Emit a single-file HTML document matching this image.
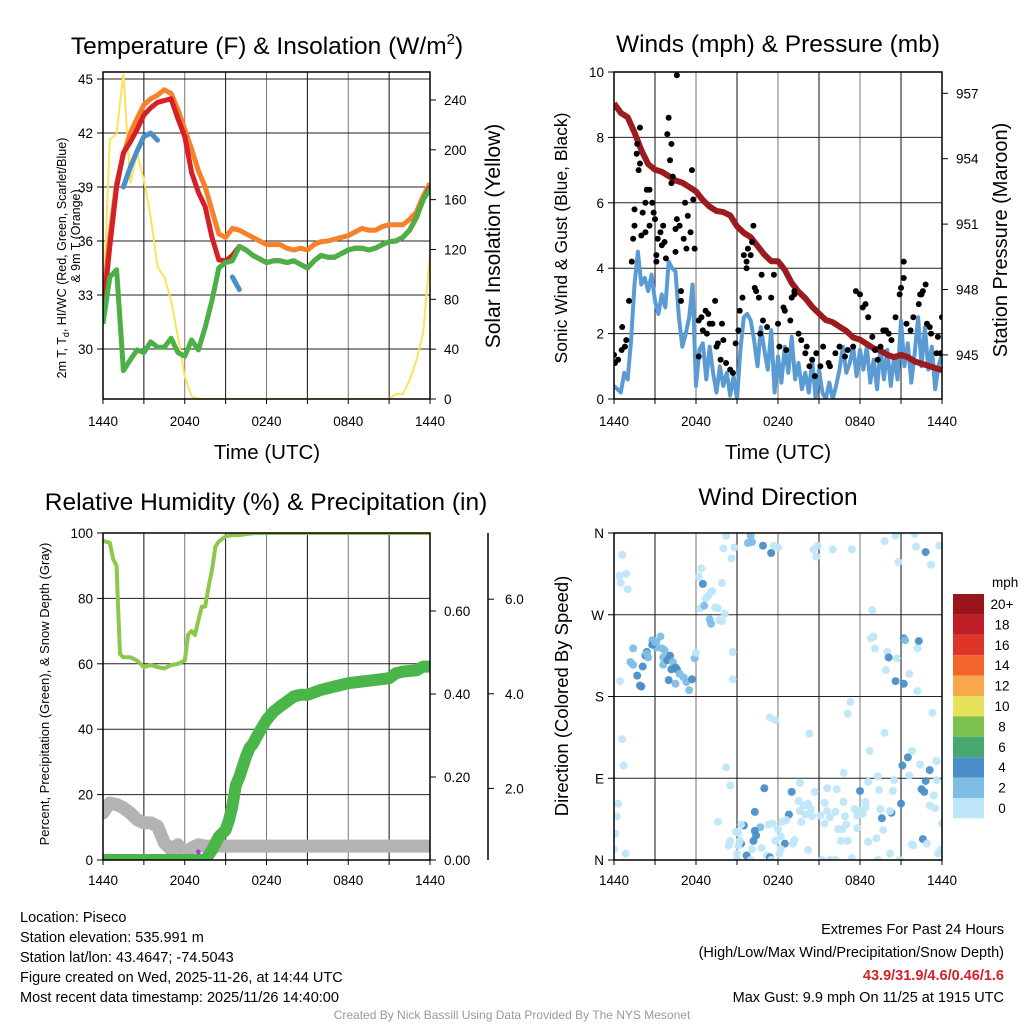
<!DOCTYPE html>
<html><head><meta charset="utf-8"><style>
html,body{margin:0;padding:0;background:#fff;}
svg{display:block;font-family:"Liberation Sans",sans-serif;}
</style></head><body>
<svg id="chart" width="1024" height="1024" viewBox="0 0 1024 1024" xmlns="http://www.w3.org/2000/svg">
<rect x="0" y="0" width="1024" height="1024" fill="#fff"/>
<defs>
<clipPath id="c1"><rect x="103" y="72" width="327" height="327"/></clipPath>
<clipPath id="c2"><rect x="614" y="72" width="328" height="327"/></clipPath>
<clipPath id="c3"><rect x="103" y="533" width="327" height="327"/></clipPath>
<clipPath id="c4"><rect x="614" y="533" width="328" height="327"/></clipPath>
</defs>
<g id="layer"></g>
<text x="267" y="54" font-size="24.5" text-anchor="middle">Temperature (F) &amp; Insolation (W/m<tspan font-size="15" dy="-10">2</tspan><tspan dy="10">)</tspan></text>
<text x="778" y="52" font-size="24.5" text-anchor="middle">Winds (mph) &amp; Pressure (mb)</text>
<text x="266" y="510" font-size="24.5" text-anchor="middle">Relative Humidity (%) &amp; Precipitation (in)</text>
<text x="778" y="505" font-size="24.5" text-anchor="middle">Wind Direction</text>
<text x="267" y="459" font-size="20.5" text-anchor="middle">Time (UTC)</text>
<text x="778" y="459" font-size="20.5" text-anchor="middle">Time (UTC)</text>
<text transform="translate(66,258) rotate(-90)" font-size="12.5" text-anchor="middle">2m T, T<tspan font-size="9" dy="3">d</tspan><tspan dy="-3">, HI/WC (Red, Green, Scarlet/Blue)</tspan></text>
<text transform="translate(80,236) rotate(-90)" font-size="12.5" text-anchor="middle">&amp; 9m T (Orange)</text>
<text transform="translate(500,236) rotate(-90)" font-size="21" text-anchor="middle">Solar Insolation (Yellow)</text>
<text transform="translate(567,238) rotate(-90)" font-size="17.5" text-anchor="middle">Sonic Wind &amp; Gust (Blue, Black)</text>
<text transform="translate(1007,240) rotate(-90)" font-size="20" text-anchor="middle">Station Pressure (Maroon)</text>
<text transform="translate(49,694) rotate(-90)" font-size="13" text-anchor="middle">Percent, Precipitation (Green), &amp; Snow Depth (Gray)</text>
<text transform="translate(568,696) rotate(-90)" font-size="18.5" text-anchor="middle">Direction (Colored By Speed)</text>
<g font-size="14.5">
<text x="20" y="922">Location: Piseco</text>
<text x="20" y="942">Station elevation: 535.991 m</text>
<text x="20" y="962">Station lat/lon: 43.4647; -74.5043</text>
<text x="20" y="982">Figure created on Wed, 2025-11-26, at 14:44 UTC</text>
<text x="20" y="1002">Most recent data timestamp: 2025/11/26 14:40:00</text>
</g>
<g font-size="14.5" text-anchor="end">
<text x="1004" y="934">Extremes For Past 24 Hours</text>
<text x="1004" y="957">(High/Low/Max Wind/Precipitation/Snow Depth)</text>
<text x="1004" y="980" fill="#d2232a" font-weight="bold">43.9/31.9/4.6/0.46/1.6</text>
<text x="1004" y="1002">Max Gust: 9.9 mph On 11/25 at 1915 UTC</text>
</g>
<text x="512" y="1019" font-size="12" fill="#999" text-anchor="middle">Created By Nick Bassill Using Data Provided By The NYS Mesonet</text>
</svg>
<script>
const hoursHalf = [0,0.5,1,1.5,2,2.5,3,3.5,4,4.5,5,5.5,6,6.5,7,7.5,8,8.5,9,9.5,10,10.5,11,11.5,12,12.5,13,13.5,14,14.5,15,15.5,16,16.5,17,17.5,18,18.5,19,19.5,20,20.5,21,21.5,22,22.5,23,23.5,24];
const temp2m = [32.0,35.7,39.0,40.9,41.5,42.2,43.0,43.4,43.7,43.8,43.9,42.8,41.8,39.8,38.7,37.9,36.2,34.95,34.9,35.2,35.7,35.5,35.2,35.0,34.8,34.9,34.9,34.8,34.9,34.7,34.5,34.9,35.2,35.1,35.1,35.3,35.5,35.6,35.6,35.5,35.6,35.8,35.96,36.0,36.2,36.6,37.3,38.3,39.0];
const temp9m = [32.5,36.2,39.2,40.8,42.0,42.8,43.56,43.9,44.1,44.4,44.2,43.3,42.2,41.1,39.9,39.0,37.7,36.4,36.2,36.7,36.6,36.4,36.2,36.0,35.8,35.8,35.8,35.6,35.5,35.6,35.5,35.8,35.96,36.0,36.1,36.2,36.3,36.5,36.7,36.6,36.6,36.8,36.9,36.9,36.9,37.2,37.6,38.5,39.2];
const dewPoint = [31.4,34.0,34.4,28.8,29.4,29.95,29.8,30.4,30.1,30.1,30.6,29.8,29.6,30.5,29.95,31.2,32.7,34.5,34.8,34.9,35.7,35.5,35.2,35.0,34.8,34.9,34.9,34.8,34.9,34.7,34.5,34.9,35.2,35.1,35.1,35.3,35.5,35.6,35.6,35.5,35.6,35.8,35.96,36.0,36.2,36.6,37.3,38.3,38.9];
const heatIndexWC = [null,null,null,39.0,40.1,41.0,41.8,42.0,41.6,null,null,40.8,null,null,null,null,null,null,null,34.0,33.3,null,null,null,null,null,null,null,null,null,null,null,null,null,null,null,null,null,null,null,null,null,null,null,null,null,null,null,null];
const insolation = [70,208,213,261,173,197,176,146,106,98,79,50,18,2,0,0,0,0,0,0,0,0,0,0,0,0,0,0,0,0,0,0,0,0,0,0,0,0,0,0,0,0,0,4,4,15,31,53,117];
const pressure = [956.54,956.1,955.9,955.2,954.4,953.75,953.5,953.4,953.2,953.0,952.9,952.7,952.5,952.1,951.8,951.6,951.55,951.4,950.9,950.6,950.4,950.0,949.6,949.3,949.3,948.9,948.3,947.9,947.6,947.2,946.9,946.6,946.5,946.3,946.1,945.8,945.7,945.5,945.3,945.2,945.0,944.9,945.0,944.9,944.7,944.6,944.5,944.4,944.3];
const sonicWind = [0.4,0.3,0.2,0.8,0.6,1.8,3.5,4.5,3.5,3.7,3.3,3.8,3.0,2.6,3.2,2.8,4.2,4.0,3.9,2.5,1.6,2.0,2.5,3.5,0.4,1.5,1.7,0.6,1.6,0.8,0.2,1.0,0.4,0.8,0.1,0.7,0.0,1.5,2.5,2.6,2.4,1.8,1.0,2.2,1.5,0.9,2.1,0.2,1.3,0.5,1.6,0.8,1.9,0.6,1.1,0.3,0.8,0.2,1.2,0.0,0.9,0.2,0.0,0.5,0.0,0.4,0.9,1.6,0.8,1.1,1.6,0.7,1.5,0.9,1.6,0.5,1.2,0.3,1.6,0.6,1.5,0.4,1.3,0.6,2.4,1.0,1.7,0.5,1.4,2.5,1.0,2.2,0.9,1.6,0.3,1.0,1.4];
const gustHours = [0,0.07,0.3,0.56,0.6,0.8,0.9,1.1,1.3,1.4,1.5,1.5,1.66,1.7,1.9,1.8,1.9,2.0,2.1,2.3,2.3,2.4,2.6,2.6,2.8,2.9,3.0,3.1,3.1,3.2,3.4,3.5,3.6,3.7,3.8,3.9,4.0,4.1,4.2,4.2,4.3,4.5,4.5,4.6,4.6,4.8,4.9,4.9,5.1,5.2,5.3,5.4,5.6,5.7,5.8,5.9,6.2,6.2,6.4,6.5,6.7,6.8,6.9,7.0,7.2,7.4,7.5,7.6,7.8,7.9,8.0,8.2,8.5,8.7,8.9,9.1,9.2,9.4,9.5,9.7,9.7,9.8,10.0,10.1,10.2,10.3,10.4,10.6,10.7,10.8,10.9,11.2,11.5,11.7,12.0,12.1,12.4,12.5,12.6,12.9,13.0,13.2,13.2,13.5,13.7,14.0,14.1,14.3,14.5,14.7,14.8,15.1,15.3,15.7,15.8,16.2,16.5,16.9,17.1,17.5,17.7,18.0,18.2,18.4,18.6,18.9,19.1,19.3,19.5,19.7,19.9,20.1,20.3,20.6,20.9,21.0,21.2,21.2,21.4,21.7,21.9,22.3,22.4,22.5,22.6,22.8,22.9,23.1,23.2,23.6,23.7,23.9,24.0];
const gustValues = [1.35,1.1,1.2,1.5,2.2,1.6,1.8,3.0,4.2,4.9,5.8,5.3,7.5,7.8,8.3,7.0,7.2,5.0,5.7,6.0,5.1,6.4,6.4,5.3,6.0,5.7,5.5,4.2,4.4,4.9,5.1,4.7,5.3,4.8,4.3,8.1,8.6,7.3,7.8,6.6,6.8,5.2,4.5,9.9,5.5,5.3,3.3,3.0,4.9,6.0,4.6,5.6,5.1,7.0,6.1,4.6,1.3,2.4,2.5,2.1,2.7,2.0,2.6,2.3,2.3,3.0,1.6,1.7,1.2,2.3,1.8,1.1,0.9,0.8,1.7,2.1,2.7,3.1,4.4,4.2,4.0,4.6,4.4,4.8,5.3,3.4,3.3,3.1,2.0,3.8,2.4,2.2,3.1,3.8,2.3,1.6,2.8,2.7,1.5,2.4,3.1,3.3,3.2,2.0,1.8,1.4,1.6,1.0,1.2,0.7,1.4,1.0,1.6,1.1,1.0,1.4,1.6,1.3,1.5,1.6,3.3,3.2,2.8,2.9,2.5,1.9,1.5,1.2,1.6,2.1,2.1,2.0,1.8,2.5,3.2,3.4,4.2,3.7,2.3,2.1,2.5,2.9,3.2,3.2,3.3,3.5,2.3,2.2,2.0,1.4,1.9,1.4,2.5];
const rhHours = [0,0.25,0.5,0.75,1,1.1,1.25,1.5,2,2.5,3,3.5,4,4.5,5,5.5,6,6.25,6.5,6.75,7,7.25,7.5,7.75,8,8.25,8.5,9,9.5,10,11,12,14,16,18,20,22,24];
const relHumidity = [97.6,97.3,97,92,90,78,63,62,62,61,59,59.6,59,58.6,59.6,60,61,69,70,68.8,73.4,77.5,77.5,83.6,88.7,95.8,97.4,99,99.4,99.4,99.9,100,100,100,100,100,100,100];
const precipHours = [0,7.5,8,8.5,9,9.25,9.5,9.75,10,10.25,10.5,10.75,11,11.5,12,12.5,13,13.5,14,14.5,15,16,17,18,19,20,21,21.5,22,23,23.5,24];
const precip = [0,0,0.024,0.056,0.072,0.096,0.13,0.18,0.2,0.225,0.25,0.27,0.28,0.31,0.337,0.357,0.37,0.382,0.394,0.398,0.398,0.41,0.418,0.426,0.43,0.434,0.438,0.45,0.454,0.457,0.466,0.466];
const snowHours = [0,0.5,1,1.5,2,2.5,3,3.5,4,4.5,5,5.5,6,6.5,7,7.5,12,18,24];
const snowDepth = [1.48,1.69,1.66,1.59,1.48,1.34,1.27,1.27,1.2,0.85,0.71,0.81,0.64,0.74,0.81,0.78,0.78,0.78,0.78];
const dirHours = [0.6,0.4,0.5,0.9,1.0,0.6,0.7,0.3,0.2,0.1,0.0,0.85,0.45,1.4,1.2,1.4,1.7,1.9,2.0,2.1,2.3,2.4,2.8,2.9,3.1,3.4,3.5,3.6,3.7,3.6,3.9,4.1,4.2,4.3,4.0,4.5,4.6,4.5,4.8,5.1,5.3,5.5,5.7,5.9,6.0,3.1,2.8,2.4,2.5,3.0,6.2,6.4,6.5,6.7,6.9,7.1,7.2,6.3,6.6,7.0,7.1,7.4,7.6,7.7,7.9,8.1,7.9,8.0,8.2,8.6,8.8,8.7,8.7,8.2,8.5,9.8,10.0,10.1,10.9,11.5,11.7,12.0,14.6,14.8,14.9,16.0,17.4,19.8,20.6,20.8,22.0,22.1,22.8,23.2,23.8,18.9,18.8,19.0,19.1,20.0,20.1,20.7,19.9,20.6,21.2,21.2,21.3,21.6,22.3,22.2,22.2,17.3,17.1,11.4,11.8,14.3,23.3,19.8,18.7,21.8,21.5,21.1,22.4,23.6,23.1,21.6,16.8,19.3,20.5,22.8,23.6,13.6,11.0,13.0,14.7,15.6,16.3,16.8,18.0,18.6,19.4,20.4,22.5,22.7,23.4,23.1,23.5,13.5,13.9,14.2,14.4,13.6,14.0,14.5,13.7,15.1,15.4,15.6,15.8,16.2,15.4,16.4,16.7,16.9,17.0,16.6,17.1,17.8,17.6,18.0,18.2,18.4,18.4,17.8,18.6,19.2,19.5,19.6,19.7,20.3,20.2,21.0,21.8,21.9,22.6,22.9,24.0,23.9,23.7,20.2,20.9,19.3,17.4,16.2,15.8,15.2,14.2,13.2,12.5,13.1,12.8,12.6,12.3,12.0,12.2,11.8,12.2,11.6,11.3,10.7,10.4,10.3,10.3,10.2,10.1,10.8,11.2,11.4,9.3,9.5,9.3,9.1,8.9,9.2,9.1,9.0,9.0,9.7,10.0,8.4,8.5,7.6,11.5,12.1];
const dirDegrees = [336,313,305,315,298,133,104,62,48,29,12,7,197,233,218,215,203,192,191,213,225,229,242,238,234,246,233,223,231,215,220,225,210,218,198,212,210,194,205,201,196,187,199,222,228,240,237,227,223,240,312,321,304,288,291,295,296,277,280,265,260,278,277,264,263,271,305,343,357,332,344,229,199,102,82,349,357,350,346,338,346,344,342,334,346,342,342,351,357,328,359,345,339,325,346,275,244,246,233,229,223,222,209,197,194,244,242,205,241,233,186,174,161,157,154,139,162,140,120,120,113,104,105,109,99,93,96,92,88,87,88,85,79,75,75,79,78,64,76,86,77,76,78,75,71,60,57,65,60,62,56,54,50,48,42,49,63,54,47,53,40,34,34,48,39,21,21,49,56,54,51,64,58,35,20,24,56,46,33,52,54,62,17,16,23,18,40,11,7,7,0,0,2,0,0,0,11,22,18,18,50,44,42,34,26,21,12,40,39,36,27,32,53,21,12,13,5,3,18,38,39,30,31,21,16,7,0,5,0,16,21,42,0,7];
const dirSpeed = [0,0,0,0,0,0,0,0,0,0,0,0,0,2,2,2,4,4,4,4,4,4,2,4,2,2,2,2,2,2,4,4,4,2,4,4,4,2,2,2,2,2,4,2,0,2,4,2,2,2,0,0,4,0,0,0,0,0,2,2,2,0,0,0,0,0,0,0,0,0,0,0,0,0,0,2,2,2,4,4,0,0,0,0,0,0,0,0,0,0,0,0,4,0,0,0,0,0,0,0,4,0,0,4,4,4,2,0,4,0,0,0,0,0,0,0,0,0,0,0,4,4,0,0,4,0,0,0,0,4,0,0,4,4,0,0,0,0,4,0,0,0,4,4,0,0,0,0,0,0,0,0,0,0,0,0,0,0,0,0,0,0,0,0,0,0,0,0,0,0,0,0,0,0,0,0,0,4,0,4,0,4,0,0,4,0,0,0,0,0,0,0,0,0,0,0,0,0,4,0,4,0,0,0,0,0,0,0,0,2,4,4,4,4,0,0,0,4,4,4,0,0,0,0,0,0,0,4,0,0,0,0,0];
const timeTickLabels = ["1440","2040","0240","0840","1440"];
const tempTicks = [30,33,36,39,42,45];
const insolTicks = [0,40,80,120,160,200,240];
const windTicks = [0,2,4,6,8,10];
const pressTicks = [945,948,951,954,957];
const rhTicks = [0,20,40,60,80,100];
const precipTicks = [0,0.2,0.4,0.6];
const precipTickLabels = ["0.00","0.20","0.40","0.60"];
const snowTicks = [2,4,6];
const snowTickLabels = ["2.0","4.0","6.0"];
const dirTicks = [0,90,180,270,360];
const dirTickLabels = ["N","E","S","W","N"];
const cbarLabels = ["20+","18","16","14","12","10","8","6","4","2","0"];
const cbarColors = ["#98161b","#be1e25","#df3429","#f1642a","#f8a84a","#e7e25c","#7cc04d","#48a870","#4a8fc8","#7fbde6","#bfe6f9"];
const speedColors = {0:"#bfe6f9",2:"#7fbde6",4:"#4a8fc8"};

const xL = h => 103 + h * 13.625;
const xR = h => 614 + h * 13.667;
const yTemp = t => 79 + (45 - t) * 18;
const yIns = s => 399 - s * 1.246;
const yWind = v => 399 - v * 32.7;
const yPress = p => 93.3 + (957 - p) * 21.8;
const yRH = r => 860 - r * 3.27;
const yPrecip = p => 860 - p * 415;
const ySnow = s => 883 - s * 47.3;
const yDir = d => 860 - d * 0.9083;

const NS = "http://www.w3.org/2000/svg";
const root = document.getElementById("layer");
function el(tag, attrs, parent, name, inter) {
  const e = document.createElementNS(NS, tag);
  for (const k in attrs) e.setAttribute(k, attrs[k]);
  
  
  (parent || root).appendChild(e);
  return e;
}
function txt(x, y, s, size, anchor, name) {
  const t = el("text", {x: x, y: y, "font-size": size, "text-anchor": anchor}, root, name, "false");
  t.textContent = s;
  return t;
}
function pathOf(xs, ys, fx, fy) {
  let d = "", pen = false;
  for (let i = 0; i < xs.length; i++) {
    if (ys[i] === null || ys[i] === undefined) { pen = false; continue; }
    d += (pen ? "L" : "M") + fx(xs[i]).toFixed(1) + "," + fy(ys[i]).toFixed(1);
    pen = true;
  }
  return d;
}
function frame(x0, y0, x1, y1, fx, hgrid, name) {
  const g = el("g", {}, root, name + "-grid", "false");
  for (let h = 3; h < 24; h += 3) {
    el("line", {x1: fx(h), y1: y0, x2: fx(h), y2: y1, stroke: (h % 6 === 0) ? "#777" : "#111", "stroke-width": 1}, g, "vertical-gridline", "false");
  }
  hgrid.forEach(y => {
    el("line", {x1: x0, y1: y, x2: x1, y2: y, stroke: "#222", "stroke-width": 1}, g, "horizontal-gridline", "false");
  });
  for (let h = 0; h <= 24; h += 3) {
    el("line", {x1: fx(h), y1: y1, x2: fx(h), y2: y1 + 5, stroke: "#000"}, g, "x-tick", "false");
  }
}
function border(x0, y0, x1, y1, name) {
  el("rect", {x: x0, y: y0, width: x1 - x0, height: y1 - y0, fill: "none", stroke: "#000", "stroke-width": 1.5}, root, name + "-border", "false");
}
function timeLabels(fx, y, name) {
  timeTickLabels.forEach((s, i) => txt(fx(i * 6), y, s, 13.5, "middle", name));
}
function leftTicks(x0, vals, fy, labels, name) {
  vals.forEach((v, i) => {
    el("line", {x1: x0 - 6, y1: fy(v), x2: x0, y2: fy(v), stroke: "#000"}, root, name + "-tick", "false");
    txt(x0 - 10, fy(v) + 5, labels ? labels[i] : String(v), 13.5, "end", name + "-label");
  });
}
function rightTicks(x1, vals, fy, labels, name) {
  vals.forEach((v, i) => {
    el("line", {x1: x1, y1: fy(v), x2: x1 + 6, y2: fy(v), stroke: "#000"}, root, name + "-tick", "false");
    txt(x1 + 14, fy(v) + 5, labels ? labels[i] : String(v), 13.5, "start", name + "-label");
  });
}

// Panel 1
frame(103, 72, 430, 399, xL, tempTicks.map(yTemp), "temp-panel");
const g1 = el("g", {"clip-path": "url(#c1)"}, root, "temp-series", "false");
el("path", {d: pathOf(hoursHalf, insolation, xL, yIns), fill: "none", stroke: "#fbe35a", "stroke-width": 2}, g1, "insolation-line", "false");
el("path", {d: pathOf(hoursHalf, temp9m, xL, yTemp), fill: "none", stroke: "#f6812b", "stroke-width": 5, "stroke-linejoin": "round"}, g1, "temp-9m-line", "false");
el("path", {d: pathOf(hoursHalf, temp2m, xL, yTemp), fill: "none", stroke: "#d62027", "stroke-width": 5, "stroke-linejoin": "round"}, g1, "temp-2m-line", "false");
el("path", {d: pathOf(hoursHalf, dewPoint, xL, yTemp), fill: "none", stroke: "#4bb046", "stroke-width": 5, "stroke-linejoin": "round"}, g1, "dewpoint-line", "false");
el("path", {d: pathOf(hoursHalf, heatIndexWC, xL, yTemp), fill: "none", stroke: "#4a8fc9", "stroke-width": 5, "stroke-linejoin": "round", "stroke-linecap": "round"}, g1, "heat-index-windchill-line", "false");
border(103, 72, 430, 399, "temp-panel");
leftTicks(103, tempTicks, yTemp, null, "temp-axis");
rightTicks(430, insolTicks, yIns, null, "insolation-axis");
timeLabels(xL, 426, "temp-time-label");

// Panel 2
frame(614, 72, 942, 399, xR, windTicks.slice(1).map(yWind), "wind-panel");
const g2 = el("g", {"clip-path": "url(#c2)"}, root, "wind-series", "false");
const windHours = sonicWind.map((v, i) => i * 0.25);
el("path", {d: pathOf(windHours, sonicWind, xR, yWind), fill: "none", stroke: "#5a9bd4", "stroke-width": 4, "stroke-linejoin": "round"}, g2, "sonic-wind-line", "false");
el("path", {d: pathOf(hoursHalf, pressure, xR, yPress), fill: "none", stroke: "#9b1b1e", "stroke-width": 6, "stroke-linejoin": "round"}, g2, "pressure-line", "false");
gustHours.forEach((h, i) => {
  if (gustValues[i] === undefined) return;
  const c = el("circle", {cx: xR(h), cy: yWind(gustValues[i]), r: 3, fill: "#000"}, g2, "gust-point", "false");
});
border(614, 72, 942, 399, "wind-panel");
leftTicks(614, windTicks, yWind, null, "wind-axis");
rightTicks(942, pressTicks, yPress, null, "pressure-axis");
timeLabels(xR, 426, "wind-time-label");

// Panel 3
frame(103, 533, 430, 860, xL, rhTicks.slice(1).map(yRH), "humidity-panel");
const g3 = el("g", {"clip-path": "url(#c3)"}, root, "humidity-series", "false");
el("path", {d: pathOf(snowHours, snowDepth, xL, ySnow), fill: "none", stroke: "#b3b3b3", "stroke-width": 13, "stroke-linejoin": "round", "stroke-linecap": "round"}, g3, "snow-depth-line", "false");
el("path", {d: pathOf(precipHours, precip, xL, yPrecip), fill: "none", stroke: "#4ab549", "stroke-width": 12, "stroke-linejoin": "round", "stroke-linecap": "round"}, g3, "precip-line", "false");
el("path", {d: pathOf(rhHours, relHumidity, xL, yRH), fill: "none", stroke: "#8dc84c", "stroke-width": 4, "stroke-linejoin": "round"}, g3, "rh-line", "false");
el("circle", {cx: xL(7.0), cy: 852, r: 2.5, fill: "#a43be0"}, g3, "precip-marker", "false");
border(103, 533, 430, 860, "humidity-panel");
leftTicks(103, rhTicks, yRH, null, "rh-axis");
rightTicks(430, precipTicks, yPrecip, precipTickLabels, "precip-axis");
el("line", {x1: 488, y1: 533, x2: 488, y2: 860, stroke: "#000", "stroke-width": 1.5}, root, "snow-axis-line", "false");
snowTicks.forEach((v, i) => {
  el("line", {x1: 488, y1: ySnow(v), x2: 494, y2: ySnow(v), stroke: "#000"}, root, "snow-axis-tick", "false");
  txt(505, ySnow(v) + 5, snowTickLabels[i], 13.5, "start", "snow-axis-label");
});
timeLabels(xL, 885, "humidity-time-label");

// Panel 4
frame(614, 533, 942, 860, xR, dirTicks.slice(1, 4).map(yDir), "direction-panel");
const g4 = el("g", {"clip-path": "url(#c4)"}, root, "direction-series", "false");
dirHours.forEach((h, i) => {
  if (dirDegrees[i] === undefined) return;
  const col = speedColors[dirSpeed[i]] || speedColors[0];
  el("circle", {cx: xR(h), cy: yDir(dirDegrees[i]), r: 4, fill: col, "fill-opacity": 0.95}, g4, "direction-point", "false");
});
border(614, 533, 942, 860, "direction-panel");
leftTicks(614, dirTicks, yDir, dirTickLabels, "direction-axis");
timeLabels(xR, 885, "direction-time-label");
txt(992, 587, "mph", 13.5, "start", "colorbar-unit");
cbarColors.forEach((c, i) => {
  el("rect", {x: 953, y: 594 + i * 20.4, width: 31, height: 20.4, fill: c}, root, "colorbar-box", "false");
  txt(1002, 609 + i * 20.4, cbarLabels[i], 13.5, "middle", "colorbar-label");
});
</script>
</body></html>
